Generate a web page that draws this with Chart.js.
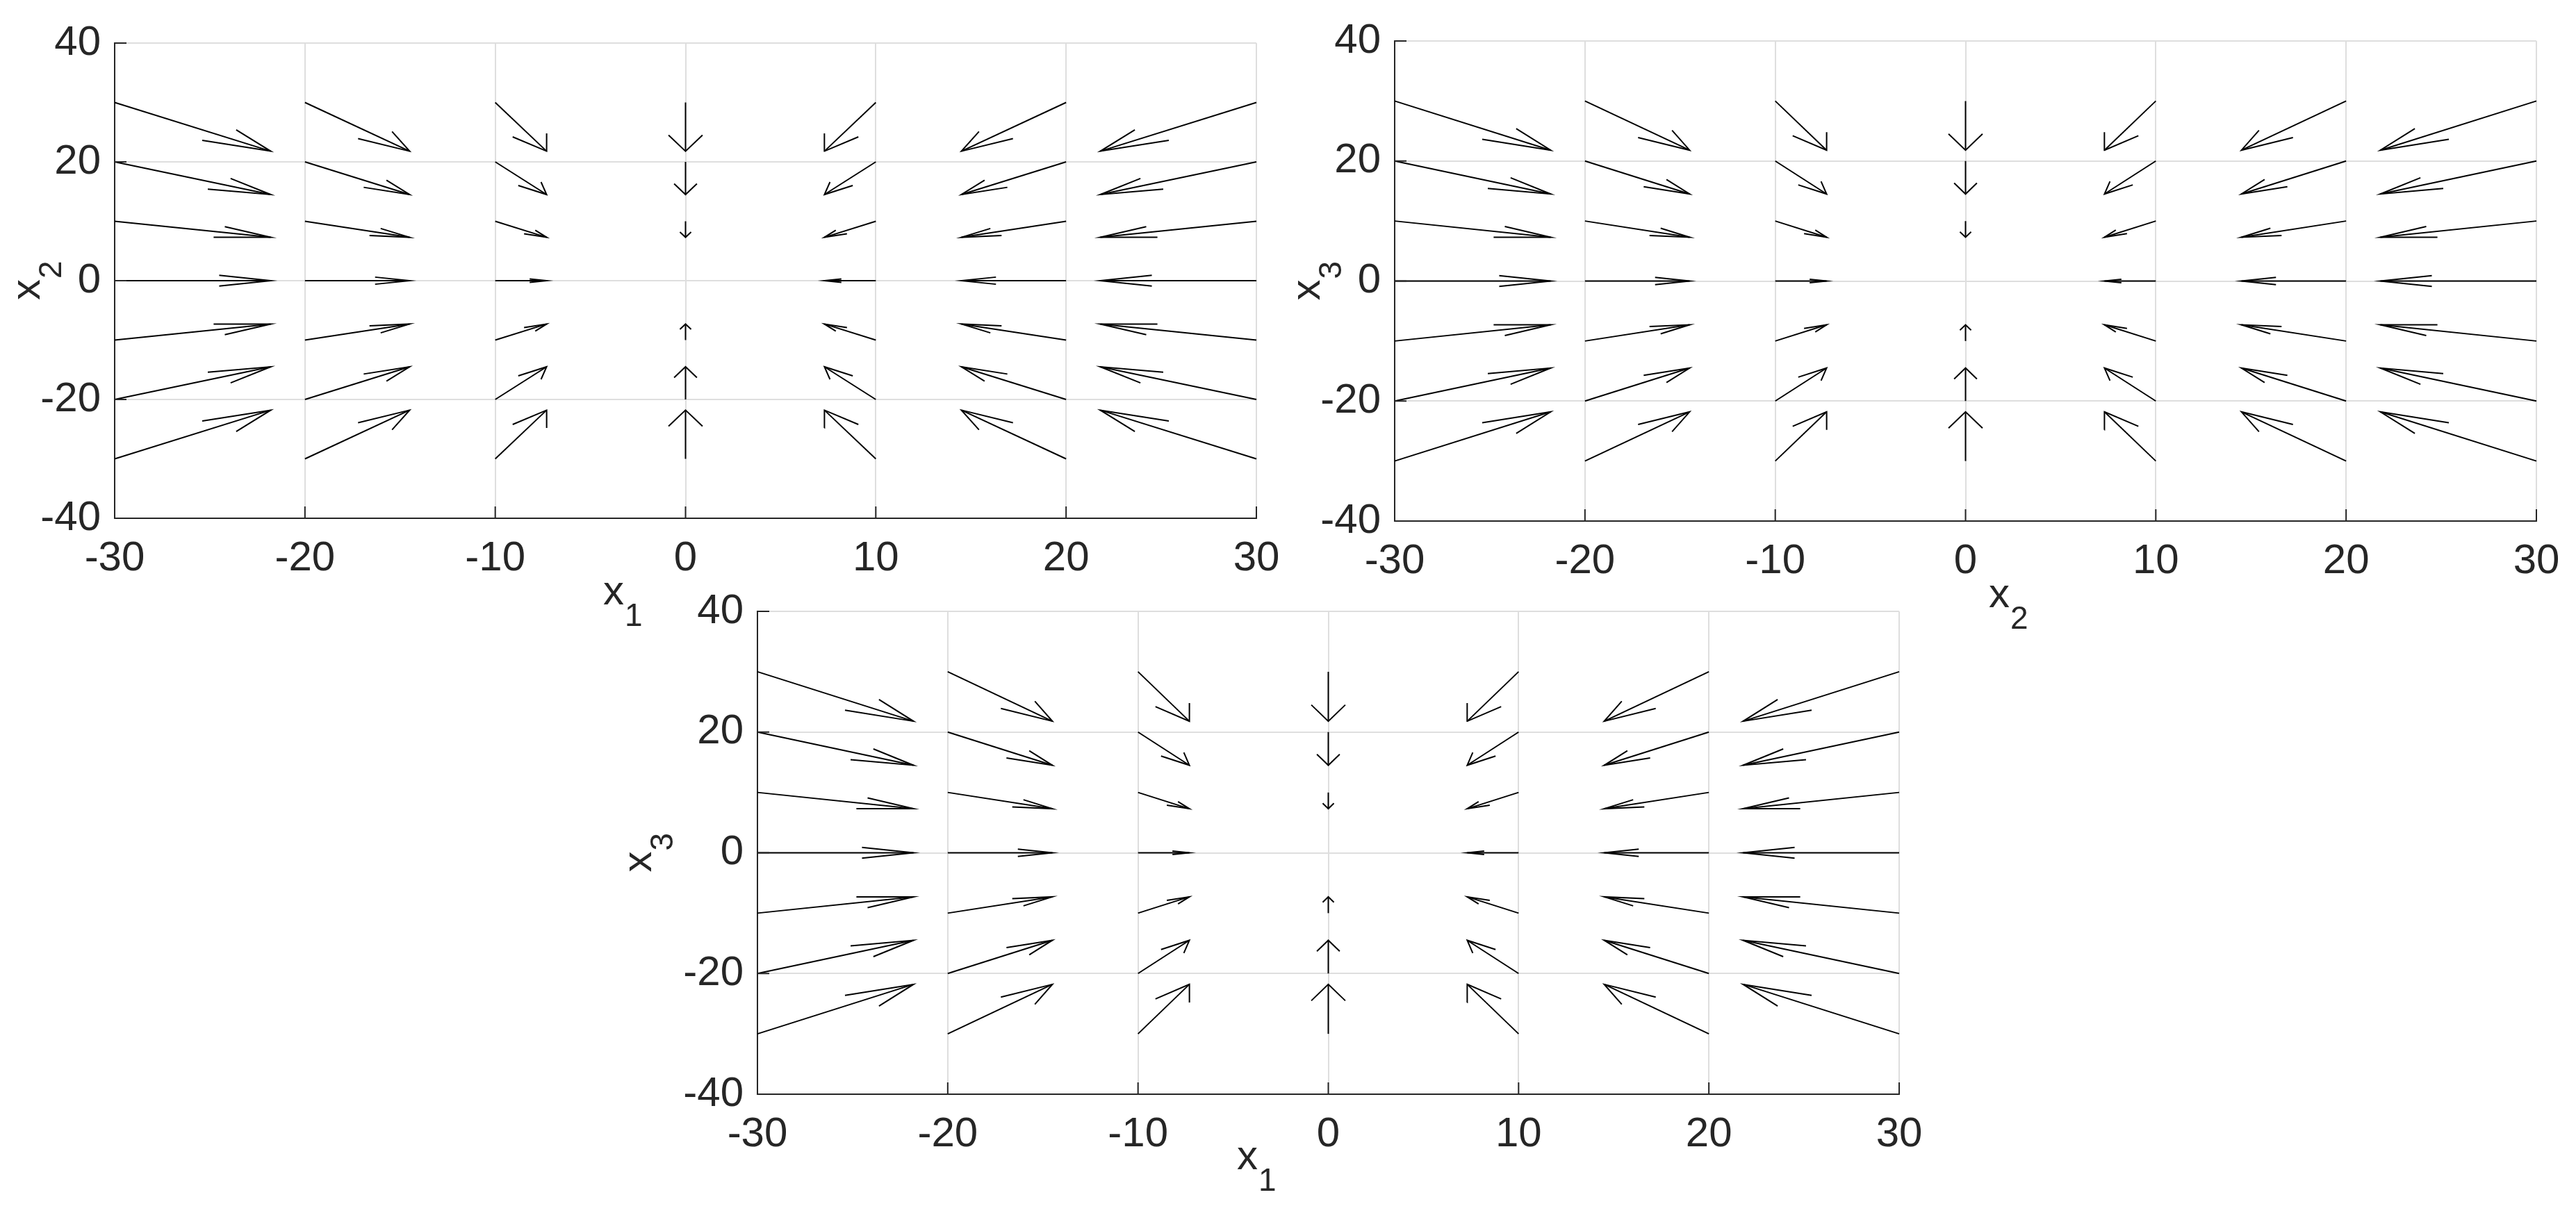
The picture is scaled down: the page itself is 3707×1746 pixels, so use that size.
<!DOCTYPE html>
<html>
<head>
<meta charset="utf-8">
<script src="https://cdn.jsdelivr.net/npm/chart.js@4.4.0/dist/chart.umd.min.js"></script>
<style>
html,body{margin:0;padding:0;background:#ffffff;width:3707px;height:1746px;overflow:hidden;}
.box{position:absolute;}
canvas{display:block;}
</style>
</head>
<body>
<div class="box" id="b1"><canvas id="p1"></canvas></div>
<div class="box" id="b2"><canvas id="p2"></canvas></div>
<div class="box" id="b3"><canvas id="p3"></canvas></div>
<script>
// ---------- data ----------
const gridX = [-30, -20, -10, 0, 10, 20, 30];
const gridY = [-30, -20, -10, 0, 10, 20, 30];
// drawn arrow components (data units); rows follow gridY, columns follow gridX
const arrowU = [
  [8.2, 5.5, 2.7, 0, -2.7, -5.5, -8.2],
  [8.2, 5.5, 2.7, 0, -2.7, -5.5, -8.2],
  [8.2, 5.5, 2.7, 0, -2.7, -5.5, -8.2],
  [8.2, 5.5, 2.7, 0, -2.7, -5.5, -8.2],
  [8.2, 5.5, 2.7, 0, -2.7, -5.5, -8.2],
  [8.2, 5.5, 2.7, 0, -2.7, -5.5, -8.2],
  [8.2, 5.5, 2.7, 0, -2.7, -5.5, -8.2]
];
const arrowV = [
  [8.2, 8.2, 8.2, 8.2, 8.2, 8.2, 8.2],
  [5.5, 5.5, 5.5, 5.5, 5.5, 5.5, 5.5],
  [2.7, 2.7, 2.7, 2.7, 2.7, 2.7, 2.7],
  [0, 0, 0, 0, 0, 0, 0],
  [-2.7, -2.7, -2.7, -2.7, -2.7, -2.7, -2.7],
  [-5.5, -5.5, -5.5, -5.5, -5.5, -5.5, -5.5],
  [-8.2, -8.2, -8.2, -8.2, -8.2, -8.2, -8.2]
];
const xTicks = [-30, -20, -10, 0, 10, 20, 30];
const yTicks = [-40, -20, 0, 20, 40];
const xAxisNames = [['x', '1'], ['x', '2'], ['x', '1']];
const yAxisNames = [['x', '2'], ['x', '3'], ['x', '3']];

// ---------- layout ----------
const YW = 240, PT = 45, PR = 60, XH = 200;
const panels = [
  {id: 'p1', box: 'b1', left: 165, top: 51, right: 1808, bottom: 746, xl: {dx: 703, dy: 124}, yl: {dx: -108}},
  {id: 'p2', box: 'b2', left: 2007, top: 48, right: 3650, bottom: 750, xl: {dx: 855, dy: 124}, yl: {dx: -108}},
  {id: 'p3', box: 'b3', left: 1090, top: 869, right: 2733, bottom: 1575, xl: {dx: 690, dy: 108}, yl: {dx: -153}}
];

const FONT = '"Liberation Sans", Arial, Helvetica, sans-serif';
const TXT = '#262626';
const ALPHA = 0.33, BETA = 0.33, EPS = 1e-12;

function buildDatasets() {
  const ds = [];
  for (let r = 0; r < gridY.length; r++) {
    for (let c = 0; c < gridX.length; c++) {
      const x = gridX[c], y = gridY[r], u = arrowU[r][c], v = arrowV[r][c];
      if (u === 0 && v === 0) continue;
      const tx = x + u, ty = y + v;
      const line = {showLine: true, pointRadius: 0, borderColor: '#000000', borderWidth: 2, fill: false, clip: 4};
      ds.push(Object.assign({data: [{x: x, y: y}, {x: tx, y: ty}]}, line));
      const h1 = {x: tx - ALPHA * (u + BETA * (v + EPS)), y: ty - ALPHA * (v - BETA * (u + EPS))};
      const h2 = {x: tx - ALPHA * (u - BETA * (v + EPS)), y: ty - ALPHA * (v + BETA * (u + EPS))};
      ds.push(Object.assign({data: [h1, {x: tx, y: ty}, h2]}, line));
    }
  }
  return ds;
}

const decorPlugin = {
  id: 'decor',
  afterDraw(chart, args, opts) {
    const ctx = chart.ctx, a = chart.chartArea;
    const xs = chart.scales.x, ys = chart.scales.y;
    ctx.save();
    ctx.strokeStyle = TXT;
    ctx.lineWidth = 2;
    ctx.beginPath();
    xTicks.forEach(v => { const p = xs.getPixelForValue(v); ctx.moveTo(p, a.bottom); ctx.lineTo(p, a.bottom - 17); });
    yTicks.forEach(v => { const p = ys.getPixelForValue(v); ctx.moveTo(a.left, p); ctx.lineTo(a.left + 17, p); });
    ctx.stroke();
    ctx.fillStyle = TXT;
    ctx.textBaseline = 'alphabetic';
    ctx.textAlign = 'left';
    // x label
    const xn = opts.xName, yn = opts.yName;
    let bx = a.left + opts.xl.dx, by = a.bottom + opts.xl.dy;
    ctx.font = '60px ' + FONT;
    ctx.fillText(xn[0], bx, by);
    let w = ctx.measureText(xn[0]).width;
    ctx.font = '46px ' + FONT;
    ctx.fillText(xn[1], bx + w + 1, by + 31);
    // y label (rotated)
    ctx.translate(a.left + opts.yl.dx, (a.top + a.bottom) / 2 + 28);
    ctx.rotate(-Math.PI / 2);
    ctx.font = '60px ' + FONT;
    ctx.fillText(yn[0], 0, 0);
    w = ctx.measureText(yn[0]).width;
    ctx.font = '46px ' + FONT;
    ctx.fillText(yn[1], w + 1, 31);
    ctx.restore();
  }
};

panels.forEach((p, i) => {
  const w = (p.right - p.left) + YW + PR;
  const h = (p.bottom - p.top) + PT + XH;
  const box = document.getElementById(p.box);
  box.style.left = (p.left - YW) + 'px';
  box.style.top = (p.top - PT) + 'px';
  box.style.width = w + 'px';
  box.style.height = h + 'px';
  const cv = document.getElementById(p.id);
  cv.width = w; cv.height = h;
  cv.style.width = w + 'px'; cv.style.height = h + 'px';
  new Chart(cv, {
    type: 'scatter',
    data: {datasets: buildDatasets()},
    plugins: [decorPlugin],
    options: {
      responsive: false,
      animation: false,
      devicePixelRatio: 1,
      events: [],
      layout: {padding: {top: PT, right: PR, left: 0, bottom: 0}},
      plugins: {
        legend: {display: false},
        tooltip: {enabled: false},
        decor: {xName: xAxisNames[i], yName: yAxisNames[i], xl: p.xl, yl: p.yl}
      },
      scales: {
        x: {
          type: 'linear', min: -30, max: 30,
          afterBuildTicks: s => { s.ticks = xTicks.map(v => ({value: v})); },
          afterFit: s => { s.height = XH; },
          ticks: {color: TXT, font: {family: FONT, size: 60}, padding: 22, maxRotation: 0, autoSkip: false},
          grid: {color: '#dedede', lineWidth: 2, drawTicks: false},
          border: {display: true, color: TXT, width: 2}
        },
        y: {
          type: 'linear', min: -40, max: 40,
          afterBuildTicks: s => { s.ticks = yTicks.map(v => ({value: v})); },
          afterFit: s => { s.width = YW; },
          ticks: {color: TXT, font: {family: FONT, size: 60}, padding: 20, autoSkip: false},
          grid: {color: '#dedede', lineWidth: 2, drawTicks: false},
          border: {display: true, color: TXT, width: 2}
        }
      }
    }
  });
});
</script>
</body>
</html>
